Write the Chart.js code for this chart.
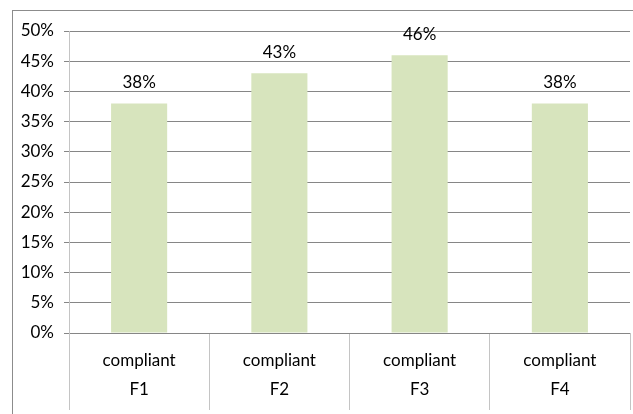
<!DOCTYPE html>
<html>
<head>
<meta charset="utf-8">
<script src="https://cdn.jsdelivr.net/npm/chart.js@4"></script>
<style>
  html, body { margin: 0; padding: 0; background: #fff; overflow: hidden; }
  #wrap { width: 633px; height: 414px; }
</style>
</head>
<body>
<div id="wrap"><canvas id="chart" width="633" height="414"></canvas></div>
<script>
'use strict';

var groups = ['F1', 'F2', 'F3', 'F4'];
var category = 'compliant';
var values = [0.38, 0.43, 0.46, 0.38];
var valueLabels = ['38%', '43%', '46%', '38%'];

Chart.defaults.font.family = 'Lato, "Open Sans", sans-serif';
Chart.defaults.font.size = 17;
Chart.defaults.color = '#000';

// outer frame of the chart
var framePlugin = {
    id: 'frame',
    beforeDraw: function (chart) {
        var ctx = chart.ctx;
        ctx.save();
        ctx.fillStyle = '#fff';
        ctx.fillRect(0, 0, chart.width, chart.height);
        ctx.strokeStyle = '#8c8c8c';
        ctx.lineWidth = 1;
        ctx.strokeRect(12.5, 10.5, 700, 500);
        ctx.restore();
    }
};

// value labels above the bars
var valuePlugin = {
    id: 'values',
    afterDatasetsDraw: function (chart) {
        var ctx = chart.ctx;
        var meta = chart.getDatasetMeta(0);
        ctx.save();
        ctx.font = '17px Lato, "Open Sans", sans-serif';
        ctx.fillStyle = '#000';
        ctx.textAlign = 'center';
        ctx.textBaseline = 'alphabetic';
        meta.data.forEach(function (bar, i) {
            ctx.fillText(valueLabels[i], bar.x, bar.y - 15);
        });
        ctx.restore();
    }
};

drawBar();

function drawBar() {
    var ctx = document.getElementById('chart').getContext('2d');
    var myChart = new Chart(ctx, {
        type: 'bar',
        data: {
            labels: groups.map(function (g) { return [category, g]; }),
            datasets: [{
                data: values,
                backgroundColor: '#D7E4BD',
                barPercentage: 0.4,
                categoryPercentage: 1
            }]
        },
        options: {
            responsive: false,
            animation: false,
            layout: { padding: { left: 0, right: 3, top: 31, bottom: 0 } },
            plugins: {
                legend: { display: false },
                tooltip: { enabled: false }
            },
            scales: {
                x: {
                    afterFit: function (scale) { scale.height = 81; },
                    grid: {
                        offset: true,
                        drawOnChartArea: false,
                        drawTicks: true,
                        tickLength: 77,
                        color: '#c4c4c4'
                    },
                    border: { display: false },
                    ticks: {
                        padding: -64,
                        maxRotation: 0,
                        font: { size: 17, lineHeight: '29px' }
                    }
                },
                y: {
                    min: 0,
                    max: 0.5,
                    afterFit: function (scale) { scale.width = 69; },
                    grid: {
                        color: '#868686',
                        tickLength: 5
                    },
                    border: { color: '#c4c4c4' },
                    ticks: {
                        stepSize: 0.05,
                        padding: 10,
                        callback: function (v) { return Math.round(v * 100) + '%'; }
                    }
                }
            }
        },
        plugins: [framePlugin, valuePlugin]
    });
}
</script>
</body>
</html>
